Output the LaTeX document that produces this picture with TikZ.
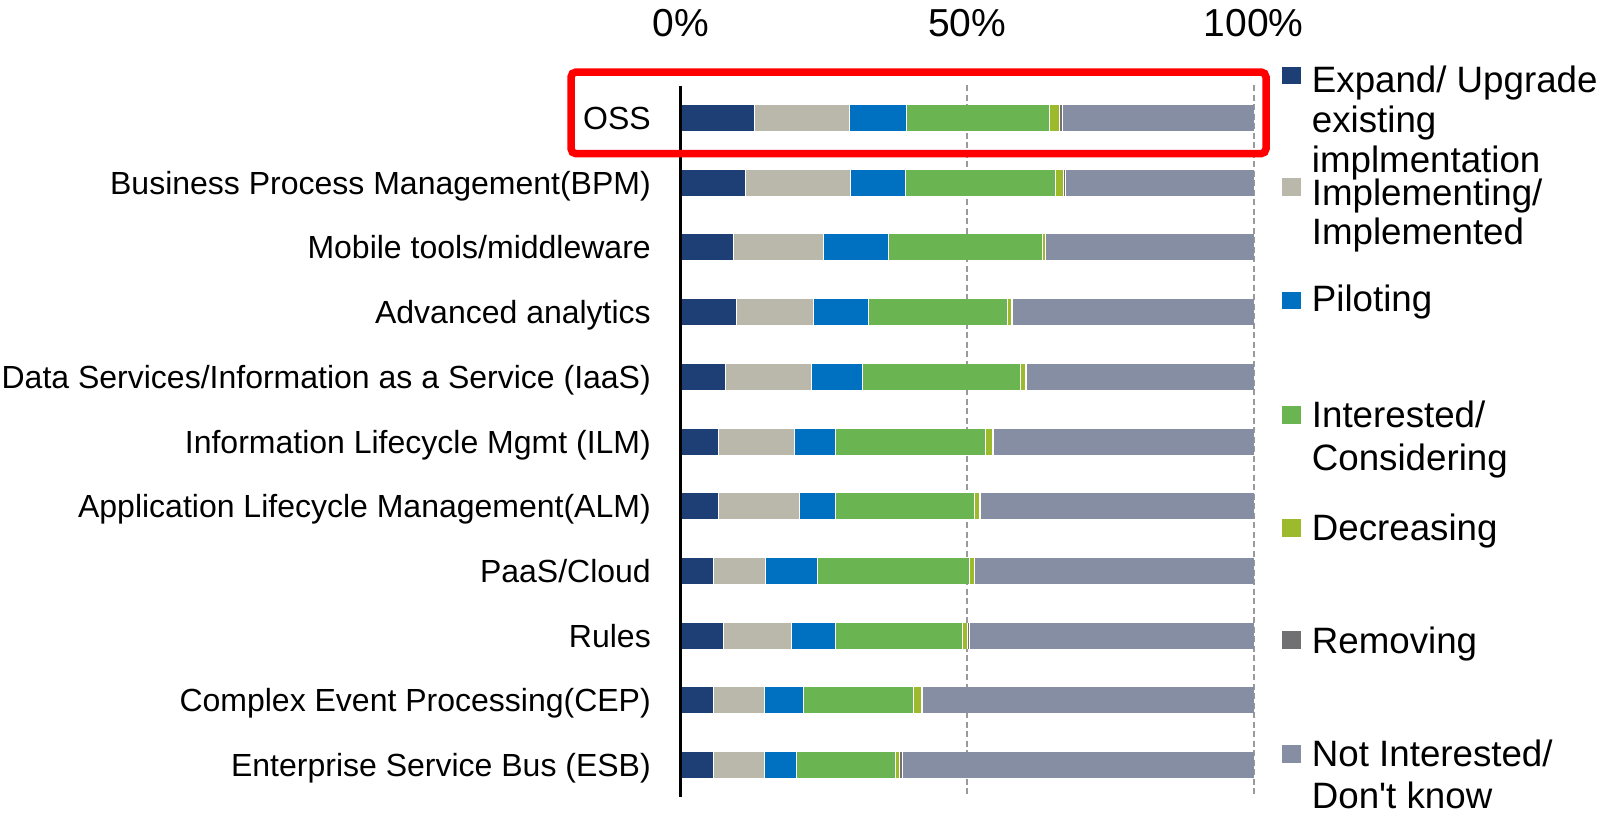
\documentclass[tikz,border=0pt]{standalone}
\usepackage{fontspec}
\setmainfont{Liberation Sans}[Ligatures=TeXOff]
\definecolor{cNavy}{HTML}{1D3F75}
\definecolor{cBeige}{HTML}{BAB8AB}
\definecolor{cBlue}{HTML}{0071C1}
\definecolor{cGreen}{HTML}{6AB552}
\definecolor{cOlive}{HTML}{9DBA2D}
\definecolor{cRemove}{HTML}{717173}
\definecolor{cNot}{HTML}{868EA4}
\definecolor{cGrid}{HTML}{9A9A9A}
\begin{document}
\begin{tikzpicture}[x=1pt,y=-1pt,
  catlabel/.style={anchor=base east,inner sep=0pt,font=\fontsize{32}{38}\selectfont},
  axlabel/.style={anchor=base,inner sep=0pt,font=\fontsize{39}{45}\selectfont},
  legtext/.style={anchor=base west,inner sep=0pt,font=\fontsize{36.7}{42}\selectfont},
  gridline/.style={draw=cGrid,line width=2pt,dash pattern=on 6pt off 3.5pt},
  segline/.style={draw=white,line width=0.5pt}]
\useasboundingbox (0,0) rectangle (1602,815);
\fill[white] (0,0) rectangle (1602,815);
% gridlines
\coordinate (g50t) at (967.3,85);
\coordinate (g50b) at (967.3,797);
\coordinate (g100t) at (1253.7,85);
\coordinate (g100b) at (1253.7,797);
\draw[gridline] (g50t) -- (g50b);
\draw[gridline] (g100t) -- (g100b);
% bars
\newcommand{\barseg}[4]{\fill[#1] ({680.7+5.73*#2},#4-13) rectangle ({680.7+5.73*#3},#4+13);}
\foreach \a/\b/\c/\d/\e/\f [count=\i from 0] in {
  12.8/29.5/39.4/64.4/66.0/66.5,
  11.2/29.6/39.2/65.4/66.7/67.1,
  9.1/24.9/36.3/63.1/63.6/63.7,
  9.7/23.1/32.8/56.9/57.6/57.8,
  7.7/22.7/31.6/59.2/60.2/60.3,
  6.5/19.8/26.9/53.2/54.3/54.6,
  6.6/20.6/26.9/51.2/52.1/52.2,
  5.6/14.8/23.9/50.3/51.2/51.3,
  7.5/19.3/26.9/49.1/50.0/50.4,
  5.6/14.6/21.4/40.5/42.0/42.2,
  5.6/14.6/20.2/37.5/38.2/38.6}{
  \pgfmathsetmacro{\yc}{118+64.7*\i}
  \barseg{cNavy}{0}{\a}{\yc}
  \barseg{cBeige}{\a}{\b}{\yc}
  \barseg{cBlue}{\b}{\c}{\yc}
  \barseg{cGreen}{\c}{\d}{\yc}
  \barseg{cOlive}{\d}{\e}{\yc}
  \barseg{cRemove}{\e}{\f}{\yc}
  \barseg{cNot}{\f}{100}{\yc}
  \foreach \s in {\a,\b,\c,\d,\e,\f}{
    \draw[segline] ({680.7+5.73*\s},\yc-13) -- ({680.7+5.73*\s},\yc+13);
  }
}
% axis
\coordinate (axt) at (680.7,86);
\coordinate (axb) at (680.7,797);
\draw[black,line width=2.5pt] (axt) -- (axb);
% axis labels
\node[axlabel] (p0) at (680.7,36.7) {0\%};
\node[axlabel] (p50) at (967.3,36.7) {50\%};
\node[axlabel] (p100) at (1253.7,36.7) {100\%};
% category labels
\node[catlabel] (c1) at (651,129.5) {OSS};
\node[catlabel] (c2) at (651,194.2) {Business Process Management(BPM)};
\node[catlabel] (c3) at (651,258.9) {Mobile tools/middleware};
\node[catlabel] (c4) at (651,323.6) {Advanced analytics};
\node[catlabel] (c5) at (651,388.3) {Data Services/Information as a Service (IaaS)};
\node[catlabel] (c6) at (651,453.0) {Information Lifecycle Mgmt (ILM)};
\node[catlabel] (c7) at (651,517.7) {Application Lifecycle Management(ALM)};
\node[catlabel] (c8) at (651,582.4) {PaaS/Cloud};
\node[catlabel] (c9) at (651,647.1) {Rules};
\node[catlabel] (c10) at (651,711.8) {Complex Event Processing(CEP)};
\node[catlabel] (c11) at (651,776.5) {Enterprise Service Bus (ESB)};
% highlight box
\draw[red,line width=7.5pt,rounded corners=5pt] (571,72) rectangle (1266,153.7);
% legend
\fill[cNavy] (1282,66.7) rectangle (1301,84.3);
\fill[cBeige] (1282,178) rectangle (1301,196);
\fill[cBlue] (1282,291.7) rectangle (1301,309.3);
\fill[cGreen] (1282,406) rectangle (1301,424);
\fill[cOlive] (1282,518.5) rectangle (1301,536.5);
\fill[cRemove] (1282,631) rectangle (1301,649);
\fill[cNot] (1282,745) rectangle (1301,763);
\node[legtext] (l1a) at (1311.7,92) {Expand/ Upgrade};
\node[legtext] (l1b) at (1311.7,132) {existing};
\node[legtext] (l1c) at (1311.7,172) {implmentation};
\node[legtext] (l2a) at (1311.7,205) {Implementing/};
\node[legtext] (l2b) at (1311.7,244) {Implemented};
\node[legtext] (l3a) at (1311.7,311) {Piloting};
\node[legtext] (l4a) at (1311.7,427) {Interested/};
\node[legtext] (l4b) at (1311.7,470) {Considering};
\node[legtext] (l5a) at (1311.7,540) {Decreasing};
\node[legtext] (l6a) at (1311.7,653) {Removing};
\node[legtext] (l7a) at (1311.7,766) {Not Interested/};
\node[legtext] (l7b) at (1311.7,808) {Don't know};
\end{tikzpicture}
\end{document}
